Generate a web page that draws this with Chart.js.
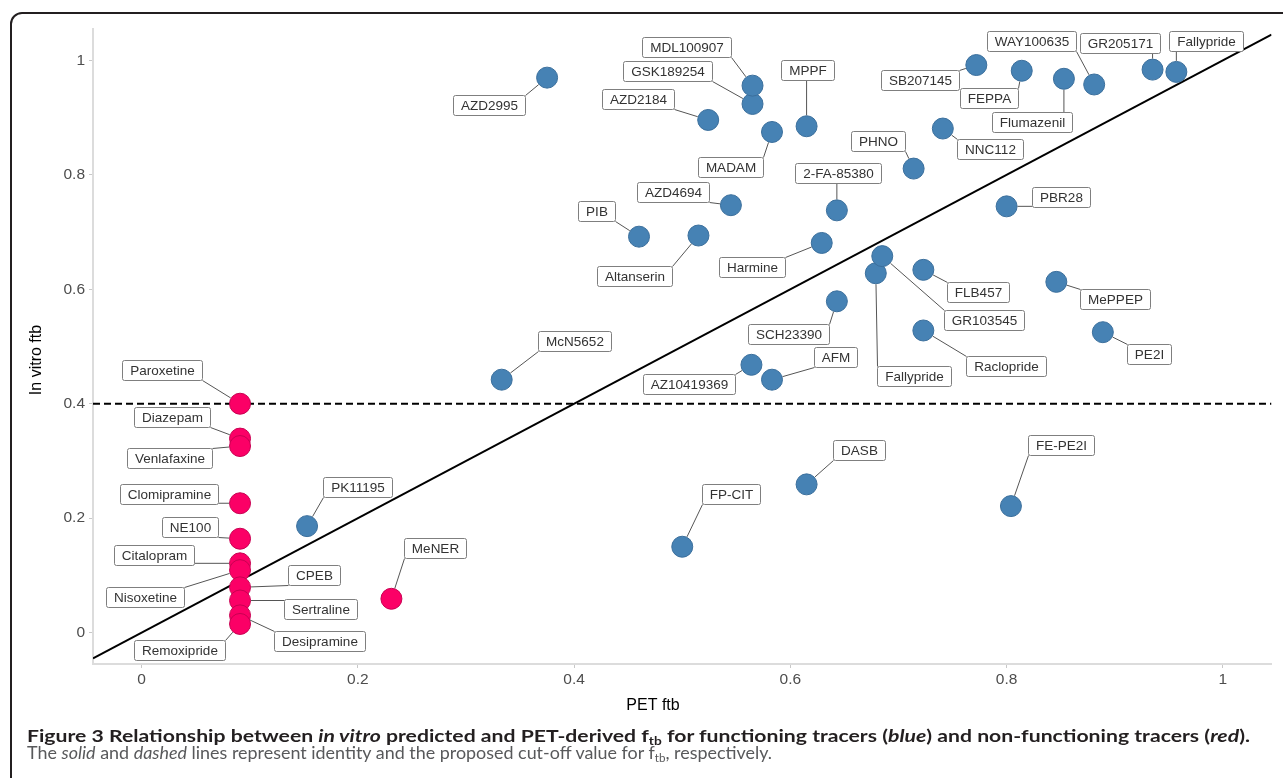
<!DOCTYPE html>
<html>
<head>
<meta charset="utf-8">
<title>In vitro vs PET-derived ftb</title>
<script src="https://cdn.jsdelivr.net/npm/chart.js@4.4.1/dist/chart.umd.min.js"></script>
<style>
  html, body { margin: 0; padding: 0; background: #fff; overflow: hidden; width: 1283px; height: 778px; }
  #wrap { position: relative; width: 1283px; height: 778px; overflow: hidden; }
  #frame { position: absolute; left: 10px; top: 12px; width: 1400px; height: 900px;
           border: 2px solid #231f20; border-radius: 12px; box-sizing: border-box; }
  canvas { position: absolute; left: 0; top: 0; }
  .cap { position: absolute; left: 27px; white-space: nowrap; font-family: Lato, "Open Sans", sans-serif;
         font-size: 17px; line-height: 20px; transform-origin: 0 0; }
  #cap1 { top: 726px; font-weight: 700; color: #231f20; }
  #cap2 { top: 743px; font-weight: 400; color: #58595b; }
  .cap sub { font-size: 11px; vertical-align: -3px; line-height: 0; }
</style>
</head>
<body>
<div id="wrap">
  <div id="frame"></div>
  <canvas id="chart" width="1283" height="778"></canvas>
  <div class="cap" id="cap1">Figure 3 Relationship between <i>in vitro</i> predicted and PET-derived f<sub>tb</sub> for functioning tracers (<i>blue</i>) and non-functioning tracers (<i>red</i>).</div>
  <div class="cap" id="cap2">The <i>solid</i> and <i>dashed</i> lines represent identity and the proposed cut-off value for f<sub>tb</sub>, respectively.</div>
</div>
<script>
// ---- Functioning tracers (blue) ----
const blueNames = ["AZD2995", "GSK189254", "MDL100907", "AZD2184", "MADAM", "MPPF", "AZD4694",
  "2-FA-85380", "PIB", "Altanserin", "Harmine", "SCH23390", "McN5652", "AZ10419369", "AFM",
  "SB207145", "FEPPA", "Flumazenil", "WAY100635", "GR205171", "Fallypride", "NNC112", "PHNO",
  "PBR28", "Fallypride", "GR103545", "FLB457", "MePPEP", "Raclopride", "PE2I", "FP-CIT", "DASB",
  "FE-PE2I", "PK11195"];
const bluePet = [0.375, 0.565, 0.565, 0.524, 0.583, 0.615, 0.545,
  0.643, 0.460, 0.515, 0.629, 0.643, 0.333, 0.564, 0.583,
  0.772, 0.814, 0.853, 0.881, 0.935, 0.957, 0.741, 0.714,
  0.800, 0.679, 0.685, 0.723, 0.846, 0.723, 0.889, 0.500, 0.615,
  0.804, 0.153];
const blueVitro = [0.970, 0.924, 0.956, 0.896, 0.875, 0.885, 0.747,
  0.738, 0.692, 0.694, 0.681, 0.579, 0.442, 0.468, 0.442,
  0.992, 0.982, 0.968, 0.958, 0.984, 0.980, 0.881, 0.811,
  0.745, 0.628, 0.658, 0.634, 0.613, 0.528, 0.525, 0.150, 0.259,
  0.221, 0.186];

// ---- Non-functioning tracers (red) ----
const redNames = ["Paroxetine", "Diazepam", "Venlafaxine", "Clomipramine", "NE100", "Citalopram",
  "Nisoxetine", "CPEB", "Sertraline", "Desipramine", "Remoxipride", "MeNER"];
const redPet = [0.091, 0.091, 0.091, 0.091, 0.091, 0.091, 0.091, 0.091, 0.091, 0.091, 0.091, 0.231];
const redVitro = [0.400, 0.339, 0.326, 0.226, 0.164, 0.121, 0.109, 0.079, 0.056, 0.030, 0.015, 0.059];

// Axis ticks and the proposed cut-off
const xTicks = [0, 0.2, 0.4, 0.6, 0.8, 1];
const yTicks = [0, 0.2, 0.4, 0.6, 0.8, 1];
const cutoff = 0.4;

// Label placement: pixel shift of each label box centre from its point (repelled layout)
const blueLabelShift = [[-57.8, 27.2], [-84.8, -32.8], [-66.3, -39.1], [-69.7, -21.3], [-41.7, 35.2],
  [1.1, -56.2], [-57.9, -13.3], [0.8, -37.2], [-42.5, -25.8], [-63.5, 40.6], [-69.8, 23.6],
  [-48.5, 32.2], [72.8, -39.1], [-62.9, 18.8], [63.7, -22.4], [-56, 14.6], [-32.8, 27.6],
  [-31.8, 43.6], [-62.4, -43.6], [-32.1, -26.4], [29.3, -30.9], [47.6, 20], [-35.6, -27.6],
  [54.6, -9.5], [37.8, 103], [102.1, 63.6], [55, 22], [59, 17.6], [82.7, 35.7], [45.9, 21.7],
  [48.4, -53], [52.8, -34.6], [50.1, -61.3], [50.1, -39.3]];
const redLabelShift = [[-77.9, -33.9], [-67.7, -21.9], [-70.9, 11.8], [-71.5, -9.5], [-49.9, -11.8],
  [-86.5, -8.1], [-95.3, 26.7], [73.6, -12.8], [80.6, 8.3], [79.5, 26], [-60.7, 25.7], [43.3, -51.2]];

const POINT_R = 11;
const toPoints = (xs, ys) => xs.map((x, i) => ({ x: x, y: ys[i] }));
const fmtTick = v => String(+Number(v).toFixed(1));

// Identity line and cut-off line, drawn beneath the points
const refLines = {
  id: 'refLines',
  beforeDatasetsDraw(chart) {
    const { ctx, chartArea: a, scales: { x, y } } = chart;
    ctx.save();
    ctx.beginPath();
    ctx.rect(a.left, a.top, a.right - a.left, a.bottom - a.top);
    ctx.clip();
    ctx.strokeStyle = '#000';
    ctx.lineWidth = 2;
    ctx.beginPath();
    ctx.moveTo(x.getPixelForValue(x.min), y.getPixelForValue(x.min));
    ctx.lineTo(x.getPixelForValue(x.max), y.getPixelForValue(x.max));
    ctx.stroke();
    ctx.setLineDash([7, 4]);
    const yc = y.getPixelForValue(cutoff);
    ctx.beginPath();
    ctx.moveTo(a.left, yc);
    ctx.lineTo(a.right, yc);
    ctx.stroke();
    ctx.restore();
  }
};

// Boxed tracer labels with leader segments
const tracerLabels = {
  id: 'tracerLabels',
  afterDatasetsDraw(chart) {
    const ctx = chart.ctx;
    ctx.save();
    ctx.font = '13.5px "Liberation Sans", Arial, sans-serif';
    const padX = 7.5, h = 20;
    const groups = [
      { names: blueNames, shift: blueLabelShift, ds: 0 },
      { names: redNames, shift: redLabelShift, ds: 1 }
    ];
    const boxes = [];
    groups.forEach(g => {
      chart.getDatasetMeta(g.ds).data.forEach((pt, i) => {
        const name = g.names[i];
        const w = Math.round(ctx.measureText(name).width + 2 * padX);
        const cx = pt.x + g.shift[i][0], cy = pt.y + g.shift[i][1];
        boxes.push({ name, x: Math.round(cx - w / 2) + 0.5, y: Math.round(cy - h / 2) + 0.5, w, h, px: pt.x, py: pt.y });
      });
    });
    ctx.strokeStyle = '#555';
    ctx.lineWidth = 1;
    boxes.forEach(b => {
      const qx = Math.min(Math.max(b.px, b.x), b.x + b.w);
      const qy = Math.min(Math.max(b.py, b.y), b.y + b.h);
      const dx = b.px - qx, dy = b.py - qy;
      const d = Math.hypot(dx, dy);
      if (d < POINT_R + 2) return;
      ctx.beginPath();
      ctx.moveTo(qx, qy);
      ctx.lineTo(b.px - dx / d * POINT_R, b.py - dy / d * POINT_R);
      ctx.stroke();
    });
    boxes.forEach(b => {
      ctx.beginPath();
      ctx.roundRect(b.x, b.y, b.w, b.h, 2);
      ctx.fillStyle = '#fff';
      ctx.fill();
      ctx.strokeStyle = '#7f7f7f';
      ctx.stroke();
      ctx.fillStyle = '#333';
      ctx.textAlign = 'center';
      ctx.textBaseline = 'middle';
      ctx.fillText(b.name, b.x + b.w / 2, b.y + b.h / 2 + 0.5);
    });
    ctx.restore();
  }
};

// Axis titles
const axisTitles = {
  id: 'axisTitles',
  afterDraw(chart) {
    const ctx = chart.ctx;
    ctx.save();
    ctx.font = '16px "Liberation Sans", Arial, sans-serif';
    ctx.fillStyle = '#000';
    ctx.textAlign = 'center';
    ctx.textBaseline = 'middle';
    ctx.fillText('PET ftb', 653, 706);
    ctx.translate(37, 360);
    ctx.rotate(-Math.PI / 2);
    ctx.fillText('In vitro ftb', 0, 0);
    ctx.restore();
  }
};

const tickFont = { family: '"Liberation Sans", Arial, sans-serif', size: 15.5 };

new Chart(document.getElementById('chart'), {
  type: 'scatter',
  data: {
    datasets: [
      {
        label: 'Functioning tracers',
        data: toPoints(bluePet, blueVitro),
        backgroundColor: '#4682b4',
        borderColor: '#3b6f9c',
        borderWidth: 1,
        pointRadius: POINT_R - 0.5,
        pointHoverRadius: POINT_R - 0.5
      },
      {
        label: 'Non-functioning tracers',
        data: toPoints(redPet, redVitro),
        backgroundColor: '#fb0066',
        borderColor: '#c80052',
        borderWidth: 1,
        pointRadius: POINT_R - 0.5,
        pointHoverRadius: POINT_R - 0.5
      }
    ]
  },
  options: {
    responsive: false,
    animation: false,
    events: [],
    devicePixelRatio: 1,
    layout: { padding: { left: 0, top: 29, right: 9, bottom: 84 } },
    plugins: { legend: { display: false }, tooltip: { enabled: false } },
    scales: {
      x: {
        type: 'linear',
        min: -0.045,
        max: 1.045,
        afterBuildTicks: s => { s.ticks = xTicks.map(v => ({ value: v })); },
        afterFit: s => { s.height = 30; },
        ticks: { callback: fmtTick, font: tickFont, color: '#4d4d4d', padding: 2, maxRotation: 0, autoSkip: false },
        grid: { drawOnChartArea: false, tickLength: 4, color: '#c8c8c8', lineWidth: 1 },
        border: { color: '#dcdcdc', width: 2 }
      },
      y: {
        type: 'linear',
        min: -0.055,
        max: 1.055,
        afterBuildTicks: s => { s.ticks = yTicks.map(v => ({ value: v })); },
        afterFit: s => { s.width = 93; },
        ticks: { callback: fmtTick, font: tickFont, color: '#4d4d4d', padding: 4, autoSkip: false },
        grid: { drawOnChartArea: false, tickLength: 4, color: '#c8c8c8', lineWidth: 1 },
        border: { color: '#dcdcdc', width: 2 }
      }
    }
  },
  plugins: [refLines, tracerLabels, axisTitles]
});

// Fit the two caption lines to the frame's text block width
function fitCaption() {
  [['cap1', 1223], ['cap2', 745]].forEach(([id, target]) => {
    const el = document.getElementById(id);
    el.style.transform = 'none';
    const w = el.getBoundingClientRect().width;
    if (w > 0) el.style.transform = 'scaleX(' + (target / w) + ')';
  });
}
fitCaption();
if (document.fonts && document.fonts.ready) document.fonts.ready.then(fitCaption);
</script>
</body>
</html>
